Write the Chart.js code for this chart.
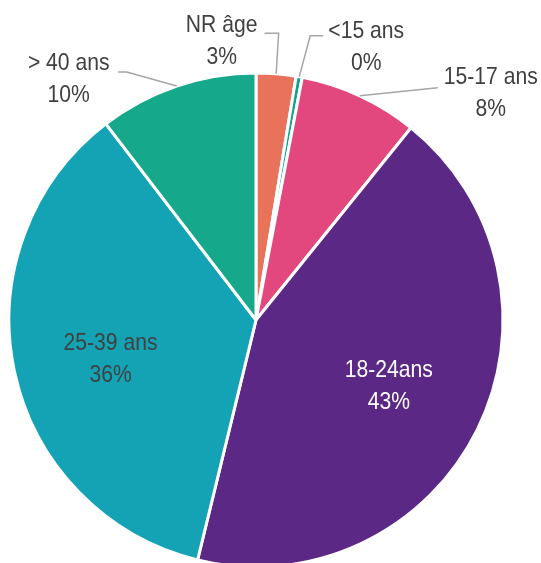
<!DOCTYPE html>
<html>
<head>
<meta charset="utf-8">
<script src="https://cdn.jsdelivr.net/npm/chart.js@4.4.0/dist/chart.umd.min.js"></script>
<style>
    html, body { margin: 0; padding: 0; background: #fff; overflow: hidden; }
    canvas { display: block; }
</style>
</head>
<body>
<canvas id="pie" width="541" height="600"></canvas>
<script>
// age groups, clockwise from 12 o'clock
const categories = ['NR âge', '<15 ans', '15-17 ans', '18-24ans', '25-39 ans', '> 40 ans'];
const shares = [2.6, 0.4, 7.8, 43.0, 35.8, 10.4];
const sliceColors = ['#E8735A', '#14A28B', '#E2477D', '#5B2886', '#13A3B5', '#15A88A'];

// label layout: inside the slice (fraction of radius + small shift) or outside with a leader line
// (leader points and text centre are offsets from the slice edge at its mid angle)
const labelPlacement = [
    { leader: [[2.5, -40.5], [-11.5, -40.5]], text: [-54.5, -32], color: '#404040' },
    { leader: [[11, -41], [24, -41]], text: [67, -29], color: '#404040' },
    { leader: [[78, -8]], text: [131, -2], color: '#404040' },
    { inside: 0.6, shift: [0, 1], color: '#ffffff' },
    { inside: 0.61, shift: [2, 8], color: '#404040' },
    { leader: [[-50, -14], [-59, -14]], text: [-108, -7], color: '#404040' }
];

function drawText(ctx, txt, x, y, color) {
    ctx.save();
    ctx.translate(x, y);
    ctx.scale(0.88, 1);
    ctx.fillStyle = color;
    ctx.font = '24px "Liberation Sans", Arial, sans-serif';
    ctx.textAlign = 'center';
    ctx.textBaseline = 'middle';
    ctx.fillText(txt, 0, 0);
    ctx.restore();
}

const sliceLabels = {
    id: 'sliceLabels',
    afterDatasetsDraw(chart) {
        const ctx = chart.ctx;
        const total = shares.reduce((a, b) => a + b, 0);
        chart.getDatasetMeta(0).data.forEach((arc, i) => {
            const p = arc.getProps(['x', 'y', 'startAngle', 'endAngle', 'outerRadius'], true);
            const mid = (p.startAngle + p.endAngle) / 2;
            const place = labelPlacement[i];
            const pct = Math.round(shares[i] / total * 100) + '%';
            let tx, ty;
            if (place.inside) {
                tx = p.x + Math.cos(mid) * p.outerRadius * place.inside + place.shift[0];
                ty = p.y + Math.sin(mid) * p.outerRadius * place.inside + place.shift[1];
            } else {
                const ex = p.x + Math.cos(mid) * p.outerRadius;
                const ey = p.y + Math.sin(mid) * p.outerRadius;
                ctx.save();
                ctx.strokeStyle = '#A6A6A6';
                ctx.lineWidth = 1.5;
                ctx.beginPath();
                ctx.moveTo(ex, ey);
                place.leader.forEach(([dx, dy]) => ctx.lineTo(ex + dx, ey + dy));
                ctx.stroke();
                ctx.restore();
                tx = ex + place.text[0];
                ty = ey + place.text[1];
            }
            drawText(ctx, categories[i], tx, ty - 16, place.color);
            drawText(ctx, pct, tx, ty + 16, place.color);
        });
    }
};

new Chart(document.getElementById('pie'), {
    type: 'pie',
    data: {
        labels: categories,
        datasets: [{
            data: shares,
            backgroundColor: sliceColors,
            borderColor: '#ffffff',
            borderWidth: 3,
            hoverOffset: 0
        }]
    },
    options: {
        responsive: false,
        animation: false,
        layout: { padding: { left: 7.5, top: 71.5, right: 36.5, bottom: 31.5 } },
        plugins: { legend: { display: false }, tooltip: { enabled: false } }
    },
    plugins: [sliceLabels]
});
</script>
</body>
</html>
